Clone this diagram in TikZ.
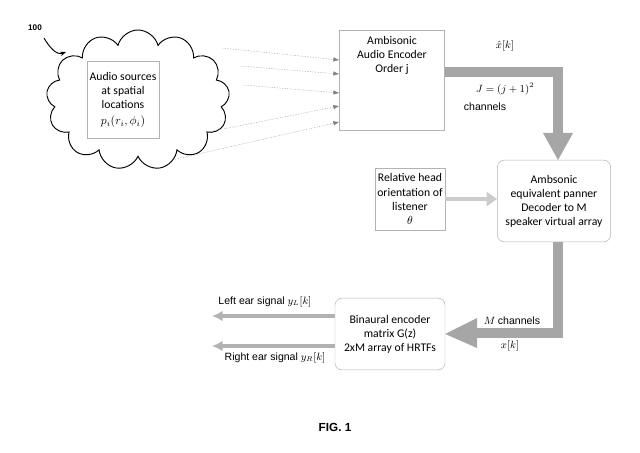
\documentclass[tikz,border=0pt]{standalone}
\usepackage{fontspec}
\setmainfont{Carlito}
\newfontfamily\arialf{Liberation Sans}
\usetikzlibrary{shapes.symbols,arrows.meta,positioning}
\begin{document}
\begin{tikzpicture}[x=0.03cm,y=-0.03cm,
  box/.style={draw=gray!60,thin,fill=white,align=center,font=\normalsize,inner sep=2pt},
  rbox/.style={box,rounded corners=6pt},
  thin arr/.style={densely dotted,gray,-{Latex[length=5pt]}},
  fat/.style={line width=9pt,gray!70},
  ear/.style={line width=3pt,gray!60,-{Latex[length=9pt,width=9pt]}}]
\useasboundingbox (0,0) rectangle (640,453);
\node[cloud,draw,thick,cloud puffs=13,cloud ignores aspect,minimum width=5.5cm,minimum height=4.2cm] (cloud) at (138,100) {};
\node[font=\arialf\bfseries\scriptsize] (lab) at (35,28) {100};
\coordinate (c1) at (44,38); \coordinate (c2) at (66,52);
\draw[-{Stealth[length=5pt]},thick] (c1) to[out=-60,in=200] (c2);
\node[box,minimum width=1.85cm,minimum height=2.3cm] (src) at (123,100) {Audio sources\\at spatial\\locations\\[2pt]$p_i(r_i,\phi_i)$};
\node[box,minimum width=3.15cm,minimum height=3cm,text depth=1.1cm] (enc) at (392,80) {Ambisonic\\Audio Encoder\\Order j\\};
\coordinate (s1) at (222,48); \coordinate (s2) at (240,66); \coordinate (s3) at (243,85);
\coordinate (s4) at (208,132); \coordinate (s5) at (172,160);
\draw[thin arr] (s1) -- (enc.west |- 0,60);
\draw[thin arr] (s2) -- (enc.west |- 0,74);
\draw[thin arr] (s3) -- (enc.west |- 0,93);
\draw[thin arr] (s4) -- (enc.west |- 0,106);
\draw[thin arr] (s5) -- (enc.west |- 0,122);
\node[rbox,minimum width=3.4cm,minimum height=2.45cm] (dec) at (554,201) {Ambsonic\\equivalent panner\\Decoder to M\\speaker virtual array};
\node[box,minimum width=2.1cm,minimum height=1.85cm] (head) at (410,199) {Relative head\\orientation of\\listener\\$\theta$};
\node[rbox,minimum width=3.3cm,minimum height=2.15cm] (bin) at (390,334) {Binaural encoder\\matrix G(z)\\2xM array of HRTFs};
% encoder -> decoder
\coordinate (k1) at (558,72);
\draw[fat] (enc.east |- k1) -- (k1) -- (558,135);
\fill[gray!70] (543,133) -- (573,133) -- (558,160) -- cycle;
\node[font=\small] (xh) at (505,46) {$\hat{x}[k]$};
\node[font=\small] (jj) at (505,89) {$J=(j+1)^2$};
\node[font=\arialf\small] (ch1) at (485,107) {channels};
% head -> decoder
\draw[line width=4pt,gray!40,-{Triangle[length=9pt,width=12pt]}] (head.east) -- (dec.west |- head.east);
% decoder -> binaural
\coordinate (k2) at (558,333);
\draw[fat] (dec.south -| k2) -- (k2) -- (475,333);
\fill[gray!70] (477,318) -- (477,348) -- (bin.east) -- cycle;
\node[font=\small] (mc) at (512,321) {$M$ {\arialf channels}};
\node[font=\small] (xk) at (510,346) {$x[k]$};
% ear outputs
\coordinate (l1) at (212,316); \coordinate (r1) at (212,346);
\draw[ear] (bin.west |- l1) -- (l1);
\draw[ear] (bin.west |- r1) -- (r1);
\node[font=\arialf\small] (lt) at (265,302) {Left ear signal $y_L[k]$};
\node[font=\arialf\small] (rt) at (275,358) {Right ear signal $y_R[k]$};
\node[font=\arialf\bfseries] (fig) at (335,427) {FIG. 1};
\end{tikzpicture}
\end{document}
